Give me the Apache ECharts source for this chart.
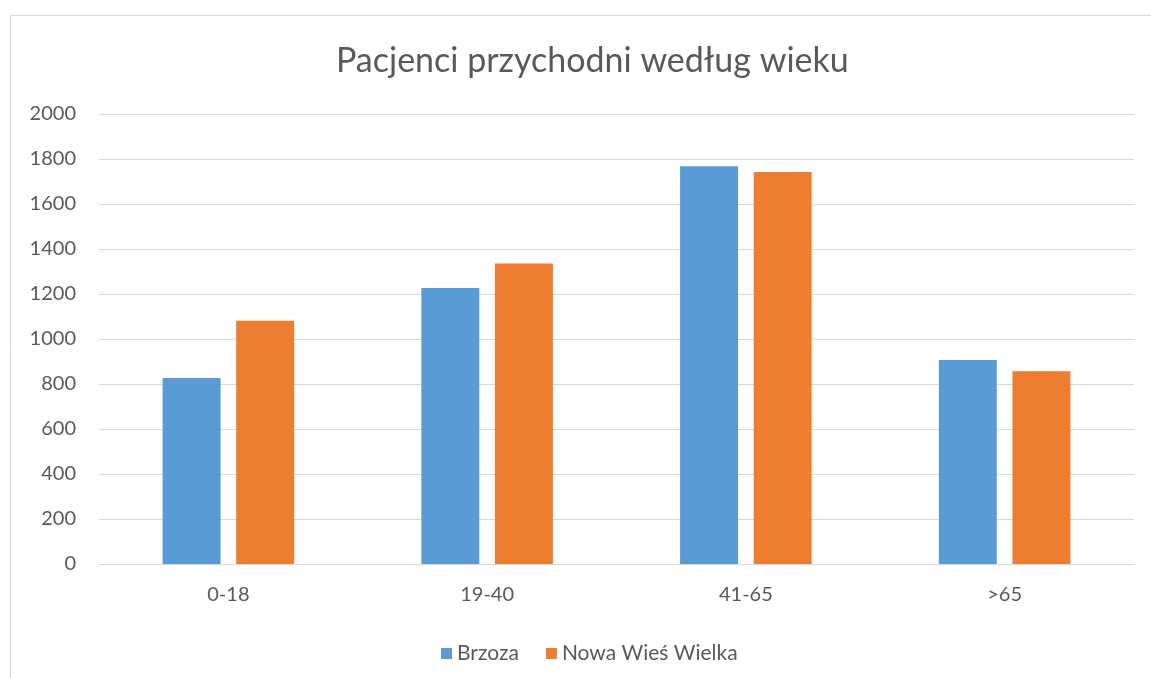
<!DOCTYPE html>
<html>
<head>
<meta charset="utf-8">
<script src="https://cdn.jsdelivr.net/npm/echarts@6/dist/echarts.min.js"></script>
<style>
  html, body { margin: 0; padding: 0; background: #fff; }
  #main { width: 1151px; height: 678px; }
</style>
</head>
<body>
<div id="main"></div>
<script>
const categories = ['0-18', '19-40', '41-65', '>65'];
const brzoza = [827, 1227, 1768, 907];
const nowaWies = [1081, 1336, 1742, 857];
const yTicks = [0, 200, 400, 600, 800, 1000, 1200, 1400, 1600, 1800, 2000];

const textColor = '#595959';
const font = 'Lato, "Open Sans", sans-serif';

const chart = echarts.init(document.getElementById('main'));
chart.setOption({
  animation: false,
  backgroundColor: '#fff',
  textStyle: { fontFamily: font },
  graphic: [
    {
      type: 'rect',
      shape: { x: 10.5, y: 15.5, width: 1300, height: 800 },
      style: { fill: 'none', stroke: '#d9d9d9', lineWidth: 1 },
      silent: true,
    },
  ],
  title: {
    text: 'Pacjenci przychodni według wieku',
    left: 331,
    top: 39,
    textStyle: { color: textColor, fontSize: 34, fontWeight: 'normal', fontFamily: font },
  },
  legend: {
    left: 436,
    top: 638,
    itemWidth: 11,
    itemHeight: 11,
    itemGap: 27,
    icon: 'rect',
    textStyle: { color: textColor, fontSize: 21, fontFamily: font },
    data: ['Brzoza', 'Nowa Wieś Wielka'],
  },
  grid: { left: 99, right: 17, top: 114, bottom: 114, containLabel: false },
  xAxis: {
    type: 'category',
    data: categories,
    axisTick: { show: false },
    axisLine: { lineStyle: { color: '#d9d9d9', width: 1 } },
    axisLabel: { color: textColor, fontSize: 20, margin: 21 },
  },
  yAxis: {
    type: 'value',
    min: yTicks[0],
    max: yTicks[yTicks.length - 1],
    interval: yTicks[1] - yTicks[0],
    axisLine: { show: false },
    axisTick: { show: false },
    axisLabel: { color: textColor, fontSize: 20, margin: 23, formatter: (v) => String(v) },
    splitLine: { lineStyle: { color: '#d9d9d9', width: 1 } },
  },
  series: [
    {
      name: 'Brzoza',
      type: 'bar',
      data: brzoza,
      barWidth: '22.4%',
      barGap: '27%',
      itemStyle: { color: '#5B9BD5' },
    },
    {
      name: 'Nowa Wieś Wielka',
      type: 'bar',
      data: nowaWies,
      barWidth: '22.4%',
      barGap: '27%',
      itemStyle: { color: '#ED7D31' },
    },
  ],
});
</script>
</body>
</html>
